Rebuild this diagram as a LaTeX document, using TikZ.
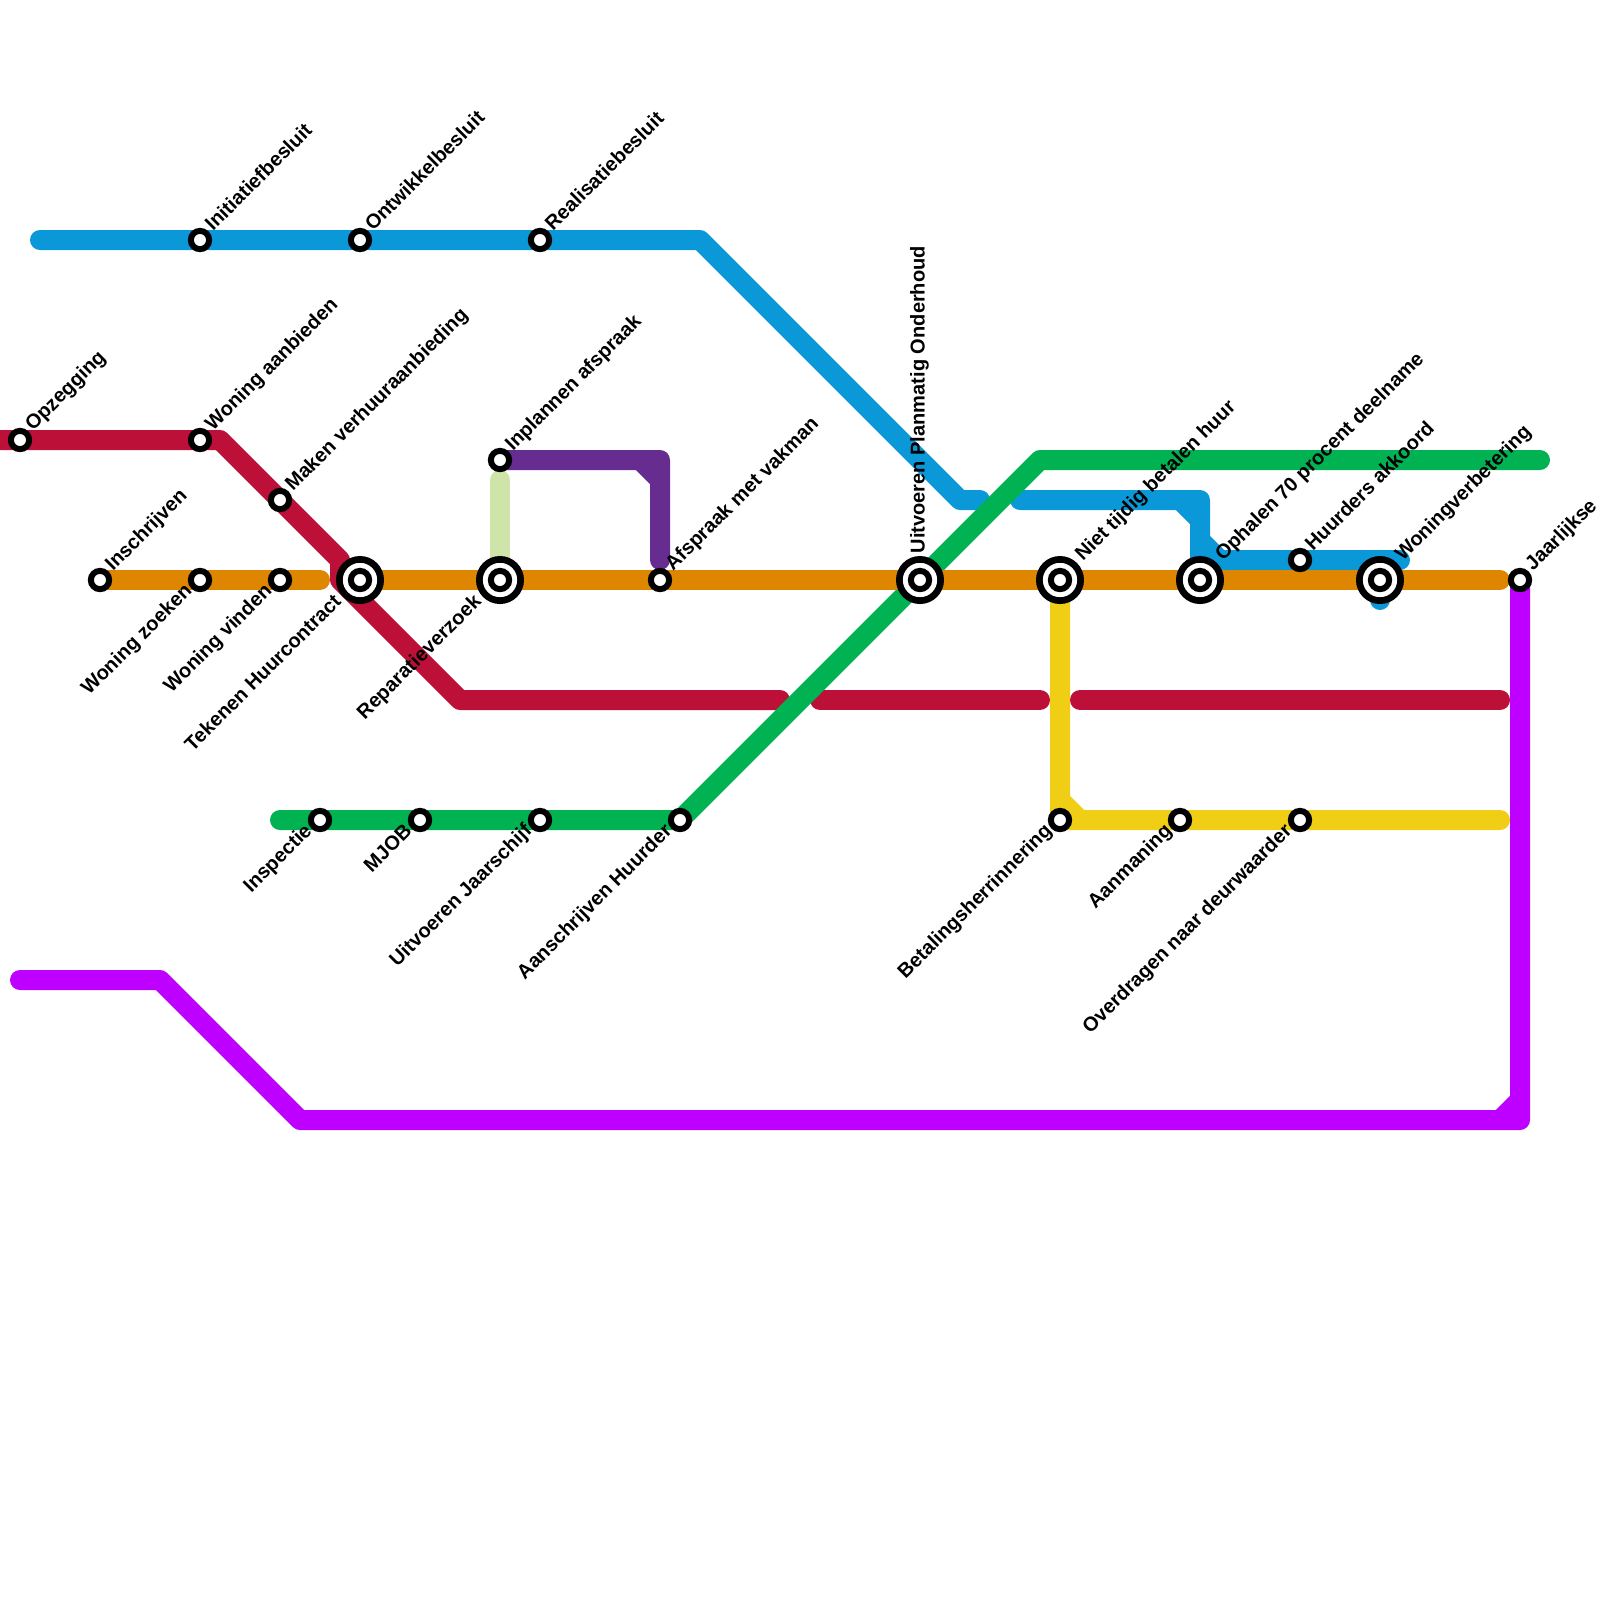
\documentclass[tikz,border=0pt]{standalone}
\usepackage{fontspec}
\setmainfont{Liberation Sans}
\usetikzlibrary{backgrounds}
\definecolor{lineblue}{HTML}{0A98D9}
\definecolor{linered}{HTML}{BD1038}
\definecolor{lineorange}{HTML}{DF8600}
\definecolor{linegreen}{HTML}{00B251}
\definecolor{linepurple}{HTML}{662C90}
\definecolor{linelime}{HTML}{CFE4A9}
\definecolor{lineyellow}{HTML}{F0CE15}
\definecolor{linemagenta}{HTML}{BD00FF}
\tikzset{
  metro/.style={line width=0.2cm,line cap=round,line join=round},
  stop/.style={circle,draw=black,fill=white,line width=0.06cm,inner sep=0pt,minimum size=0.183cm},
  hub/.style={stop,line width=0.067cm,minimum size=0.413cm,label={[stop]center:}},
  lab/.style={font=\bfseries\fontsize{5.7}{6.9}\selectfont,inner ysep=0pt,inner xsep=0.13cm,text height=0.15cm,text depth=0.08cm,text=black},
  labne/.style={lab,rotate=45,anchor=west,inner xsep=0.145cm},
  labsw/.style={lab,rotate=45,anchor=east},
  hubne/.style={labne,inner xsep=0.285cm},
  hubsw/.style={labsw,inner xsep=0.28cm},
}
\begin{document}
\begin{tikzpicture}[x=0.2cm,y=-0.2cm]
  \useasboundingbox (0,0) rectangle (80,80);
  % stops
  \node[stop] (opzegging) at (1,22) {};
  \node[stop] (aanbieden) at (10,22) {};
  \node[stop] (maken) at (14,25) {};
  \node[stop] (inschrijven) at (5,29) {};
  \node[stop] (zoeken) at (10,29) {};
  \node[stop] (vinden) at (14,29) {};
  \node[hub] (tekenen) at (18,29) {};
  \node[hub] (reparatie) at (25,29) {};
  \node[stop] (inplannen) at (25,23) {};
  \node[stop] (vakman) at (33,29) {};
  \node[hub] (onderhoud) at (46,29) {};
  \node[hub] (niettijdig) at (53,29) {};
  \node[hub] (ophalen) at (60,29) {};
  \node[stop] (akkoord) at (65,28) {};
  \node[hub] (verbetering) at (69,29) {};
  \node[stop] (jaarlijks) at (76,29) {};
  \node[stop] (initiatief) at (10,12) {};
  \node[stop] (ontwikkel) at (18,12) {};
  \node[stop] (realisatie) at (27,12) {};
  \node[stop] (inspectie) at (16,41) {};
  \node[stop] (mjob) at (21,41) {};
  \node[stop] (jaarschijf) at (27,41) {};
  \node[stop] (aanschrijven) at (34,41) {};
  \node[stop] (betaling) at (53,41) {};
  \node[stop] (aanmaning) at (59,41) {};
  \node[stop] (overdragen) at (65,41) {};
  % labels
  \node[labne] (lopzegging) at (opzegging) {Opzegging};
  \node[labne] (laanbieden) at (aanbieden) {Woning aanbieden};
  \node[labne] (lmaken) at (maken) {Maken verhuuraanbieding};
  \node[labne] (linschrijven) at (inschrijven) {Inschrijven};
  \node[labsw] (lzoeken) at (zoeken) {Woning zoeken};
  \node[labsw] (lvinden) at (vinden) {Woning vinden};
  \node[hubsw] (ltekenen) at (tekenen) {Tekenen Huurcontract};
  \node[hubsw] (lreparatie) at (reparatie) {Reparatieverzoek};
  \node[labne] (linplannen) at (inplannen) {Inplannen afspraak};
  \node[labne] (lvakman) at (vakman) {Afspraak met vakman};
  \node[lab,rotate=90,anchor=west,inner xsep=0.26cm,text height=0.16cm,text depth=0.07cm] (londerhoud) at (onderhoud) {Uitvoeren Planmatig Onderhoud};
  \node[hubne] (lniettijdig) at (niettijdig) {Niet tijdig betalen huur};
  \node[hubne] (lophalen) at (ophalen) {Ophalen 70 procent deelname};
  \node[labne] (lakkoord) at (akkoord) {Huurders akkoord};
  \node[hubne] (lverbetering) at (verbetering) {Woningverbetering};
  \node[labne] (ljaarlijks) at (jaarlijks) {Jaarlijkse};
  \node[labne] (linitiatief) at (initiatief) {Initiatiefbesluit};
  \node[labne] (lontwikkel) at (ontwikkel) {Ontwikkelbesluit};
  \node[labne] (lrealisatie) at (realisatie) {Realisatiebesluit};
  \node[labsw] (linspectie) at (inspectie) {Inspectie};
  \node[labsw] (lmjob) at (mjob) {MJOB};
  \node[labsw] (ljaarschijf) at (jaarschijf) {Uitvoeren Jaarschijf};
  \node[labsw] (laanschrijven) at (aanschrijven) {Aanschrijven Huurder};
  \node[labsw] (lbetaling) at (betaling) {Betalingsherrinnering};
  \node[labsw] (laanmaning) at (aanmaning) {Aanmaning};
  \node[labsw] (loverdragen) at (overdragen) {Overdragen naar deurwaarder};
  % lines
  \begin{scope}[on background layer]
    \draw[metro,linelime] (25,24) -- (reparatie.center);
    \draw[metro,linepurple] (inplannen.center) -- (33,23) -- (33,28) (32,23) -- (33,24);
    \draw[metro,linemagenta] (1,49) -- (8,49) -- (15,56) -- (76,56) -- (jaarlijks.center) (75,56) -- (76,55);
    \draw[metro,lineyellow] (niettijdig.center) -- (betaling.center) -- (75,41) (53,40) -- (54,41);
    \draw[metro,lineblue] (2,12) -- (35,12) -- (48,25) -- (49,25);
    \draw[metro,lineblue] (51,25) -- (60,25) -- (60,28) -- (70,28) (59,25) -- (60,26) (60,27) -- (61,28);
    \draw[metro,lineblue] (69,28) -- (69,30);
    \draw[metro,linered] (0,22) -- (11,22) -- (17,28) -- (17,29) -- (23,35) -- (39,35);
    \draw[metro,linered] (41,35) -- (52,35);
    \draw[metro,linered] (54,35) -- (75,35);
    \draw[metro,linegreen] (14,41) -- (34,41) -- (52,23) -- (77,23);
    \draw[metro,lineorange] (inschrijven.center) -- (16,29);
    \draw[metro,lineorange] (tekenen.center) -- (75,29);
  \end{scope}
\end{tikzpicture}
\end{document}
